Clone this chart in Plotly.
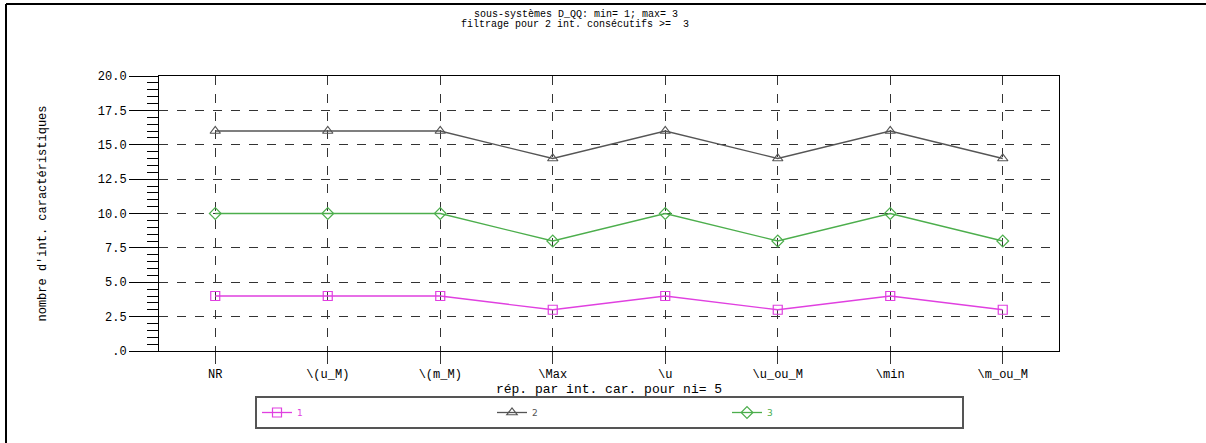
import plotly.graph_objects as go

categories = ["NR", "\\(u_M)", "\\(m_M)", "\\Max", "\\u", "\\u_ou_M", "\\min", "\\m_ou_M"]
serie_1 = [4, 4, 4, 3, 4, 3, 4, 3]
serie_2 = [16, 16, 16, 14, 16, 14, 16, 14]
serie_3 = [10, 10, 10, 8, 10, 8, 10, 8]
y_tickvals = [0, 2.5, 5, 7.5, 10, 12.5, 15, 17.5, 20]
y_ticktext = [".0", "2.5", "5.0", "7.5", "10.0", "12.5", "15.0", "17.5", "20.0"]

W, H = 1206, 443
L, R, T, B = 159, 1059, 76, 351
pw, ph = R - L, B - T

def px(x):
    return (x - L) / pw

def py(y):
    return (B - y) / ph

MONO = "Liberation Mono"
C1, C2, C3 = "#e040e0", "#555555", "#4cae4c"

fig = go.Figure()
series = [
    ("1", serie_1, C1, "square-open"),
    ("2", serie_2, C2, "triangle-up-open"),
    ("3", serie_3, C3, "diamond-open"),
]
for name, vals, col, sym in series:
    fig.add_trace(go.Scatter(
        x=categories, y=vals, mode="lines+markers",
        name=f'<span style="color:{col}">{name}</span>',
        line=dict(color=col, width=1.3),
        marker=dict(symbol=sym, size=9, color=col, line=dict(width=1.2, color=col)),
    ))

fig.update_layout(
    width=W, height=H,
    margin=dict(l=L, r=W - R, t=T, b=H - B, pad=0),
    paper_bgcolor="white", plot_bgcolor="white",
    showlegend=True,
    font=dict(family=MONO, size=12, color="black"),
    legend=dict(
        orientation="h", x=px(255), y=py(396), xanchor="left", yanchor="top",
        bordercolor="#555555", borderwidth=2, bgcolor="white",
        entrywidth=190, entrywidthmode="pixels",
        font=dict(family="DejaVu Sans", size=9),
        itemclick=False, tracegroupgap=0,
    ),
)
fig.update_xaxes(
    type="category", range=[-0.5, 7.5],
    showgrid=True, gridcolor="#333333", griddash="dash", gridwidth=1,
    ticks="outside", ticklen=12, tickcolor="#333333", tickwidth=1,
    showline=True, linecolor="black", linewidth=1, mirror=True,
    tickfont=dict(family=MONO, size=12),
    title=dict(text="rép. par int. car. pour ni= 5", font=dict(family=MONO, size=13), standoff=0),
    zeroline=False, automargin=False,
)
fig.update_yaxes(
    range=[0, 20], tickmode="array", tickvals=y_tickvals, ticktext=y_ticktext,
    showgrid=True, gridcolor="#333333", griddash="dash", gridwidth=1,
    ticks="outside", ticklen=29, tickcolor="black", tickwidth=1,
    minor=dict(dtick=0.5, ticks="outside", ticklen=11, tickcolor="black", tickwidth=1, showgrid=False),
    showline=True, linecolor="black", linewidth=1, mirror=True,
    tickfont=dict(family=MONO, size=12),
    title=dict(text="nombre d'int. caractéristiques", font=dict(family=MONO, size=12), standoff=48),
    zeroline=False, automargin=False,
)

fig.add_annotation(text="sous-systèmes D_QQ: min= 1; max= 3", xref="paper", yref="paper",
                   x=px(472), y=py(14), xanchor="left", yanchor="middle", showarrow=False,
                   font=dict(family=MONO, size=10, color="black"))
fig.add_annotation(text="filtrage pour 2 int. consécutifs >=  3", xref="paper", yref="paper",
                   x=px(459), y=py(25), xanchor="left", yanchor="middle", showarrow=False,
                   font=dict(family=MONO, size=10, color="black"))

# outer frame
fig.add_shape(type="line", xref="paper", yref="paper", x0=px(6), x1=px(1210), y0=py(4), y1=py(4),
              line=dict(color="black", width=2))
fig.add_shape(type="line", xref="paper", yref="paper", x0=px(6), x1=px(6), y0=py(4), y1=py(450),
              line=dict(color="black", width=2))

fig.write_html("out.html", config={"displayModeBar": False},
               post_script="document.body.style.margin='0';document.body.style.padding='0';document.body.style.overflow='hidden';")
